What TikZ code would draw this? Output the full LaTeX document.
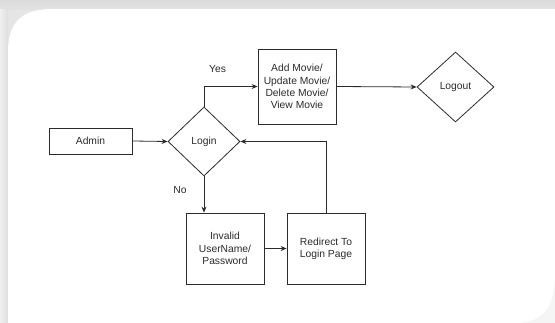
\documentclass[tikz,border=0pt]{standalone}
\usepackage{fontspec}
\setmainfont{Liberation Sans}
\usetikzlibrary{shapes.geometric,arrows.meta}
\definecolor{ink}{HTML}{2B2B2B}
\begin{document}
\begin{tikzpicture}[x=1pt,y=-1pt,
  every node/.style={font=\fontsize{10.3}{12.3}\selectfont, text=ink},
  box/.style={draw=ink, line width=0.8pt, rectangle, inner sep=0pt, align=center},
  dia/.style={draw=ink, line width=0.8pt, diamond, inner sep=0pt, align=center},
  lbl/.style={inner sep=0pt},
  conn/.style={draw=ink, line width=0.8pt, -{Stealth[length=6pt,width=5pt]}}]
\useasboundingbox (0,0) rectangle (555,323);
% background frame
\fill[gray!20] (0,0) rectangle (555,323);
\shade[top color=gray!28, bottom color=gray!22] (0,0) rectangle (555,10);
\shade[left color=gray!12, right color=gray!26] (0,10) rectangle (8,323);
\fill[gray!8] (470,250) rectangle (555,323);
\fill[white] (8,323) -- (8,52) .. controls (8,22) and (22,9) .. (52,9) -- (555,9)
  -- (555,272) .. controls (555,305) and (545,323) .. (515,323) -- cycle;
% nodes
\node[box, minimum width=83pt, minimum height=26pt] (admin) at (90.5,141) {Admin};
\node[dia, minimum width=72pt, minimum height=69pt] (login) at (204,141.5) {Login};
\node[box, minimum width=78pt, minimum height=75pt] (add) at (297,86.5) {Add Movie/\\Update Movie/\\Delete Movie/\\View Movie};
\node[dia, minimum width=77pt, minimum height=70pt] (logout) at (455.5,87) {Logout};
\node[box, minimum width=78pt, minimum height=71pt] (invalid) at (225,248.5) {Invalid\\UserName/\\Password};
\node[box, minimum width=78pt, minimum height=71pt] (redirect) at (326,248.5) {Redirect To\\Login Page};
\node[lbl] (yes) at (217.5,69) {Yes};
\node[lbl] (no) at (180,190) {No};
% connectors
\draw[conn] (admin.east) -- (login.west);
\draw[conn] (login.north) |- (add.west);
\draw[conn] (add.east) -- (logout.west);
\draw[conn] (login.south) -- (login.south |- invalid.north);
\draw[conn] (invalid.east) -- (redirect.west);
\draw[conn] (redirect.north) |- (login.east);
\end{tikzpicture}
\end{document}
